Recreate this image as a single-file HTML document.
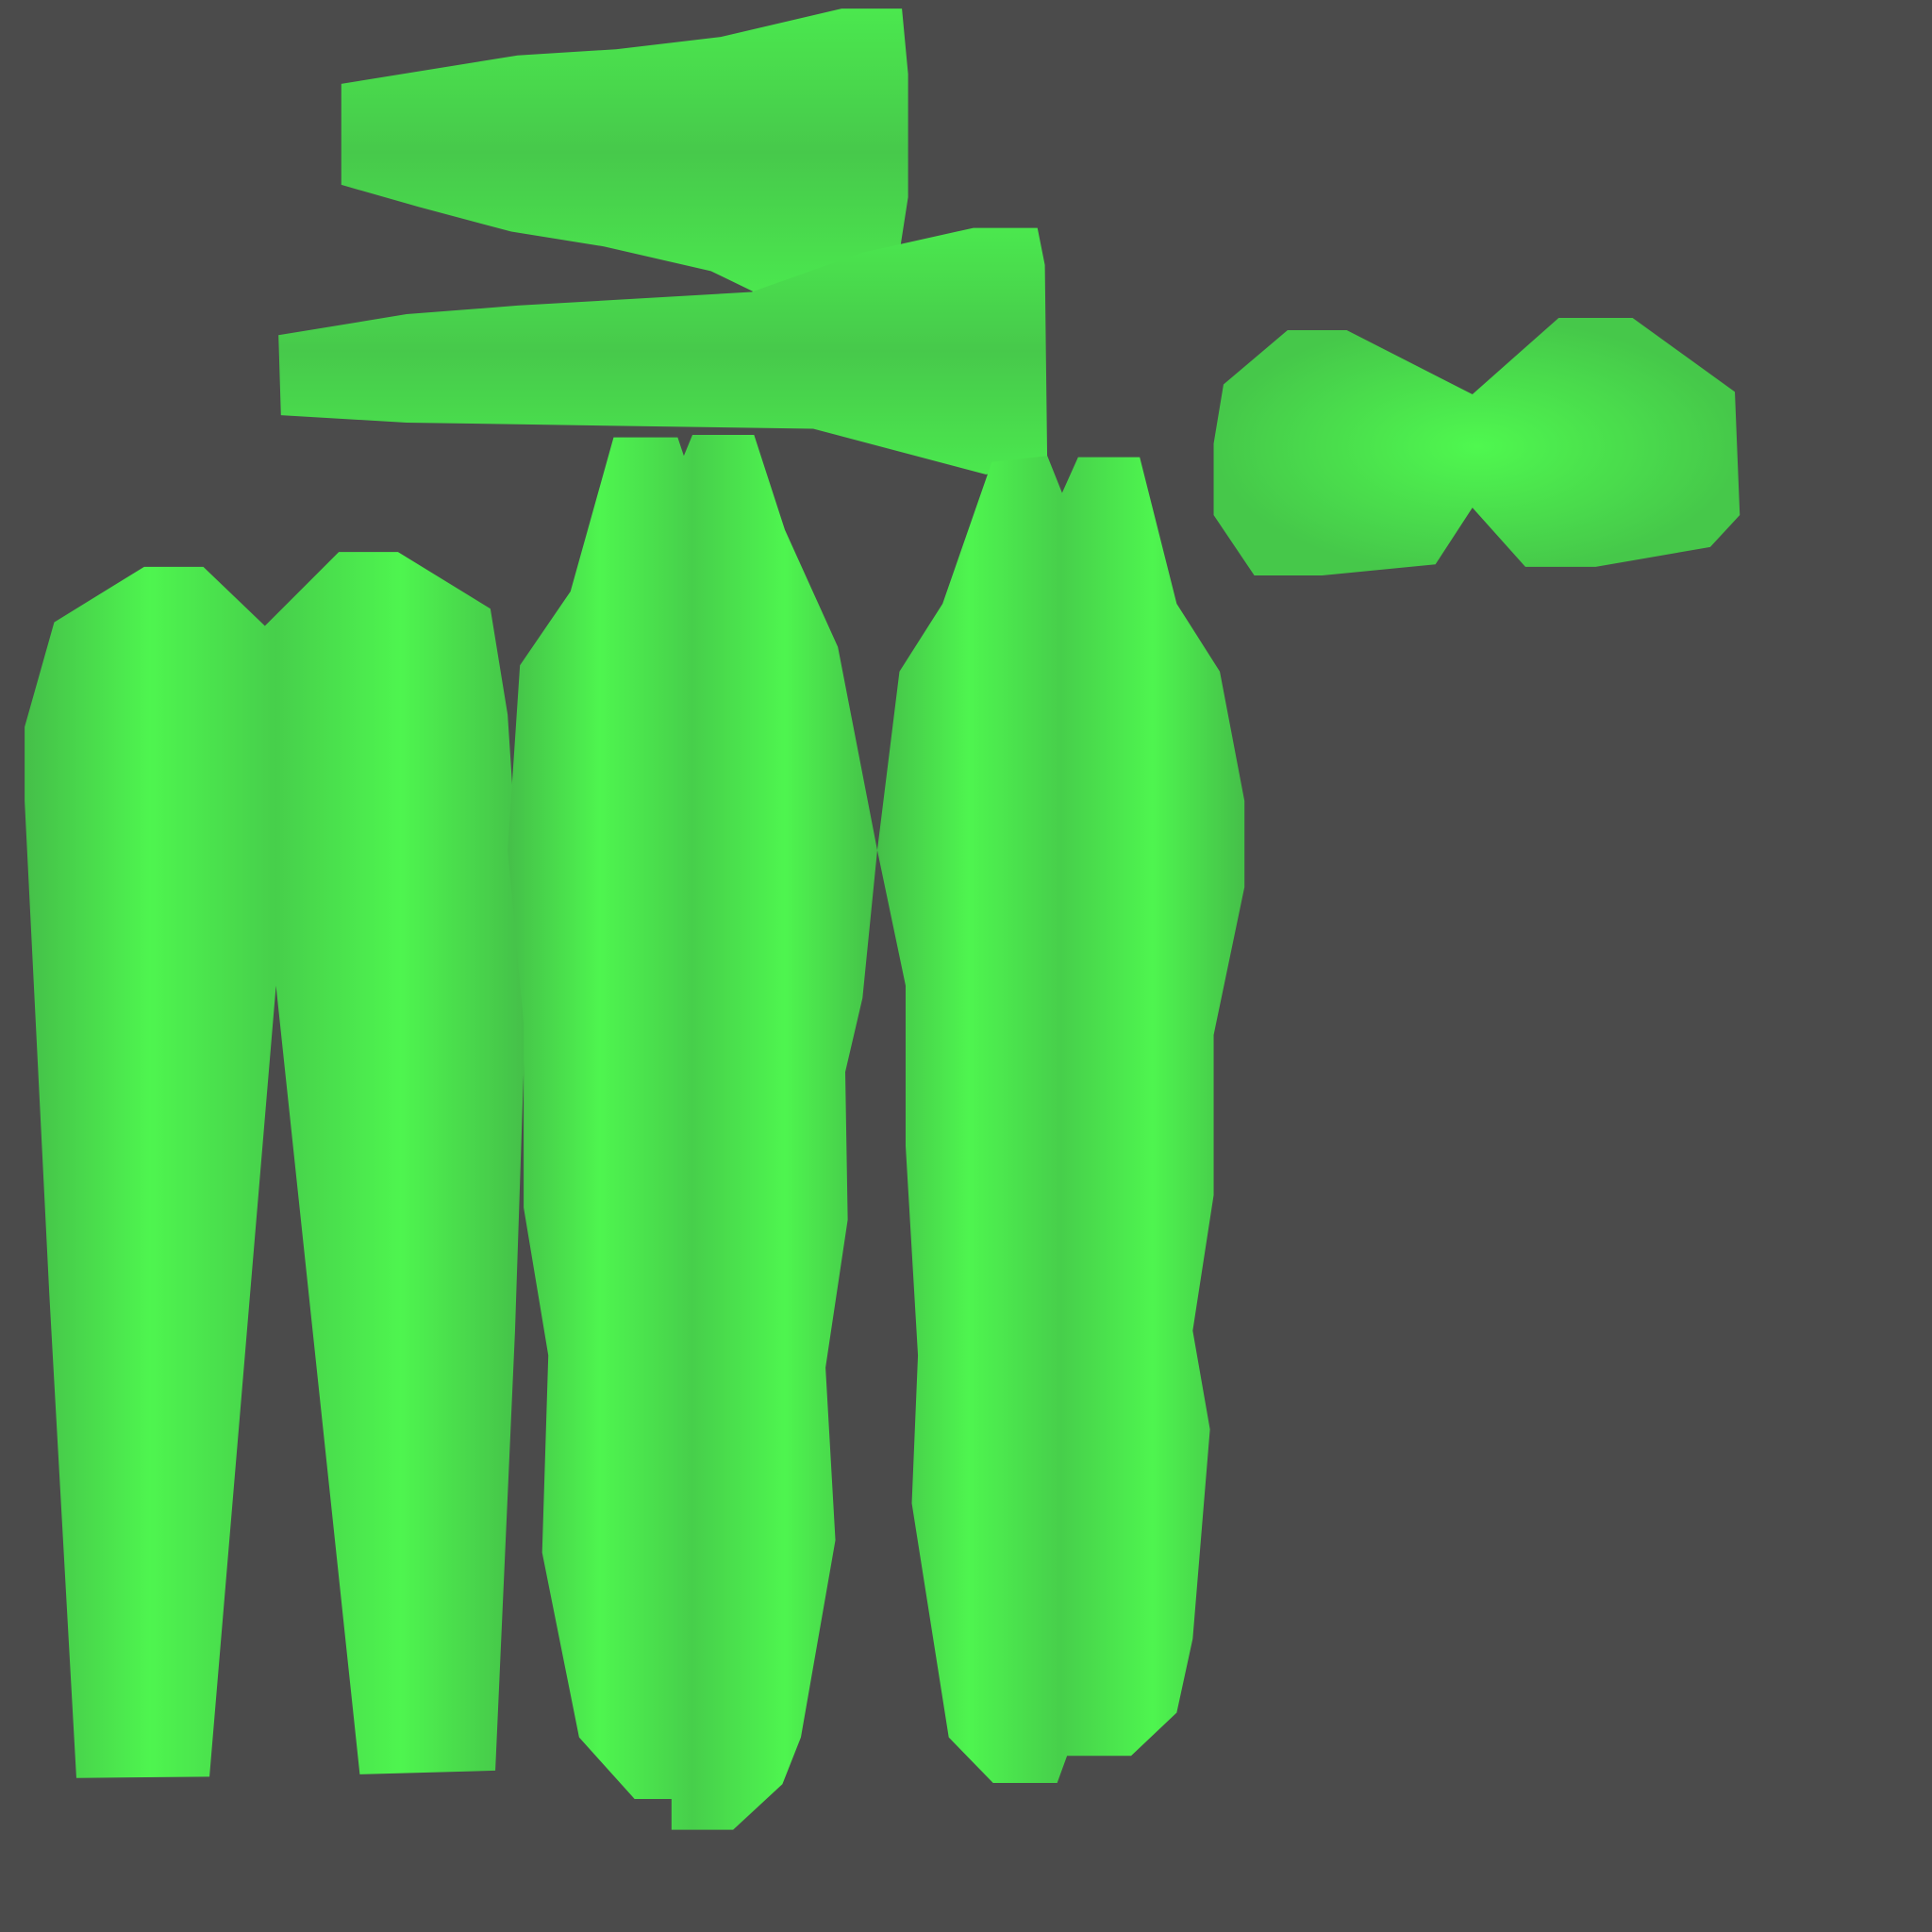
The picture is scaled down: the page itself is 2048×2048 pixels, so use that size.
<!DOCTYPE html>
<html><head><meta charset="utf-8"><style>
html,body{margin:0;padding:0;background:#4b4b4b;}
svg{display:block;}
</style></head><body>
<svg width="2048" height="2048" viewBox="0 0 1568 1568" xmlns="http://www.w3.org/2000/svg">
<defs>
<linearGradient id="gh" x1="0" y1="0" x2="1" y2="0">
<stop offset="0" stop-color="#45bf49"/><stop offset="0.25" stop-color="#4ef54f"/><stop offset="0.5" stop-color="#47cf4b"/><stop offset="0.75" stop-color="#4ef54f"/><stop offset="1" stop-color="#45bf49"/>
</linearGradient>
<linearGradient id="gv" x1="0" y1="0" x2="0" y2="1">
<stop offset="0" stop-color="#4be84e"/><stop offset="0.5" stop-color="#47c94b"/><stop offset="1" stop-color="#4be84e"/>
</linearGradient>
<radialGradient id="gr"><stop offset="0" stop-color="#4ff84f"/><stop offset="1" stop-color="#46c84a"/></radialGradient>
</defs>
<rect width="1568" height="1568" fill="#4b4b4b"/>
<polygon fill="url(#gv)" points="277,68 420,45 500,40 585,30 683,7 732,7 737,60 737,160 730,205 700,240 612,237 577,220 490,200 415,188 340,168 277,150"/>
<polygon fill="url(#gv)" points="226,272 330,255 420,248 610,237 700,205 790,185 842,185 848,215 850,380 800,385 660,348 330,343 228,337"/>
<polygon fill="url(#gr)" points="1045,268 1093,268 1195,320 1265,258 1325,258 1408,318 1412,418 1388,444 1295,460 1238,460 1195,412 1165,458 1073,467 1018,467 985,418 985,360 993,312"/>
<polygon fill="url(#gh)" points="44,505 117,460 165,460 215,508 275,448 323,448 398,494 412,580 427,810 418,1080 402,1437 292,1440 224,800 170,1442 62,1443 40,1050 20,650 20,590"/>
<polygon fill="url(#gh)" points="498,355 550,355 555,370 562,353 612,353 637,430 680,525 712,690 700,810 686,870 688,990 670,1110 678,1250 650,1410 635,1448 595,1485 545,1485 545,1460 515,1460 470,1410 440,1260 445,1100 425,980 425,830 412,690 422,540 463,480"/>
<polygon fill="url(#gh)" points="805,375 850,370 862,400 875,371 925,371 955,490 990,545 1010,650 1010,720 985,840 985,970 968,1080 982,1160 968,1330 955,1390 918,1425 866,1425 858,1447 806,1447 770,1410 740,1220 745,1100 735,930 735,800 712,690 730,545 765,490"/>
</svg>
</body></html>
